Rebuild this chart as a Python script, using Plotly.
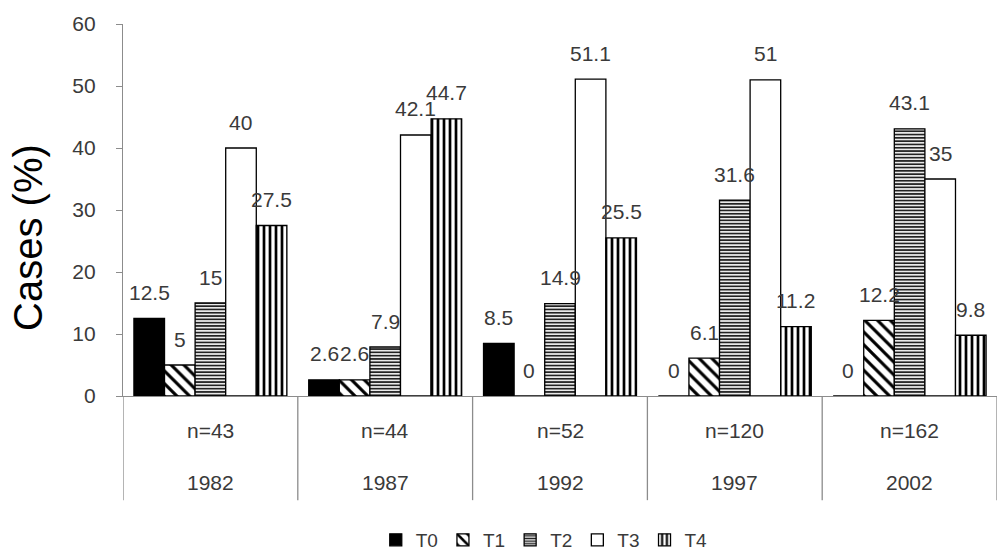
import plotly.graph_objects as go

years = ["1982", "1987", "1992", "1997", "2002"]
n_labels = ["n=43", "n=44", "n=52", "n=120", "n=162"]
series_names = ["T0", "T1", "T2", "T3", "T4"]
T0 = [12.5, 2.6, 8.5, 0, 0]
T1 = [5, 2.6, 0, 6.1, 12.2]
T2 = [15, 7.9, 14.9, 31.6, 43.1]
T3 = [40, 42.1, 51.1, 51, 35]
T4 = [27.5, 44.7, 25.5, 11.2, 9.8]
series_values = [T0, T1, T2, T3, T4]
y_ticks = [0, 10, 20, 30, 40, 50, 60]

TXT = "#3a3a3a"
FONT = "Liberation Sans"
FS = 21

styles = [
    dict(color="black", pattern=None),
    dict(color="white", pattern=dict(shape="\\", fgcolor="black", bgcolor="white", size=9, solidity=0.35, fillmode="replace")),
    dict(color="white", pattern=dict(shape="-", fgcolor="#222222", bgcolor="white", size=3.3, solidity=0.55, fillmode="replace")),
    dict(color="white", pattern=None),
    dict(color="white", pattern=dict(shape="|", fgcolor="black", bgcolor="white", size=6, solidity=0.45, fillmode="replace")),
]

BARGAP = 0.125
fig = go.Figure()
for name, vals, st in zip(series_names, series_values, styles):
    marker = dict(color=st["color"], line=dict(color="black", width=1.3))
    if st["pattern"]:
        marker["pattern"] = st["pattern"]
    fig.add_trace(go.Bar(name=name, x=years, y=vals, marker=marker))

# value labels above bars
w = (1 - BARGAP) / len(series_names)
annotations = []
for j, vals in enumerate(series_values):
    for i, v in enumerate(vals):
        annotations.append(dict(
            x=i + (j - 2) * w, y=v, xref="x", yref="y",
            text=f"{v:g}", showarrow=False, yanchor="middle",
            yshift=26, font=dict(family=FONT, size=FS, color=TXT)))
# two-level category labels
for i, (yr, nl) in enumerate(zip(years, n_labels)):
    annotations.append(dict(x=i, y=-0.092, xref="x", yref="paper", text=nl,
                            showarrow=False, yanchor="middle",
                            font=dict(family=FONT, size=FS, color=TXT)))
    annotations.append(dict(x=i, y=-0.232, xref="x", yref="paper", text=yr,
                            showarrow=False, yanchor="middle",
                            font=dict(family=FONT, size=FS, color=TXT)))
# y axis title
annotations.append(dict(x=-0.109, y=0.427, xref="paper", yref="paper",
                        text="Cases (%)", textangle=-90, showarrow=False,
                        xanchor="center", yanchor="middle",
                        font=dict(family=FONT, size=40, color="black")))

shapes = []
for k in range(len(years) + 1):
    shapes.append(dict(type="line", xref="x", yref="paper",
                       x0=k - 0.5, x1=k - 0.5, y0=0, y1=-0.28,
                       line=dict(color="#8c8c8c", width=1.3)))

fig.update_layout(
    width=1002, height=557,
    margin=dict(l=123, r=5, t=24, b=161, autoexpand=False),
    plot_bgcolor="white", paper_bgcolor="white",
    barmode="group", bargap=BARGAP, bargroupgap=0,
    showlegend=True,
    legend=dict(orientation="h", x=0.482, xanchor="center", y=-0.387, yanchor="middle",
                font=dict(family=FONT, size=19, color=TXT),
                itemwidth=30, tracegroupgap=0),
    annotations=annotations,
    shapes=shapes,
)
fig.update_xaxes(showticklabels=False, showline=True, linecolor="#8c8c8c", linewidth=1.3,
                 ticks="", showgrid=False, range=[-0.5, 4.5], zeroline=False)
fig.update_yaxes(range=[0, 60], tickvals=y_ticks, showline=True, linecolor="#8c8c8c",
                 linewidth=1.3, ticks="outside", ticklen=6, tickcolor="#8c8c8c",
                 showgrid=False, zeroline=False, ticklabelstandoff=16,
                 tickfont=dict(family=FONT, size=FS, color=TXT))

fig.write_html("out.html", config={"displayModeBar": False},
               post_script="document.body.style.margin='0px';")
